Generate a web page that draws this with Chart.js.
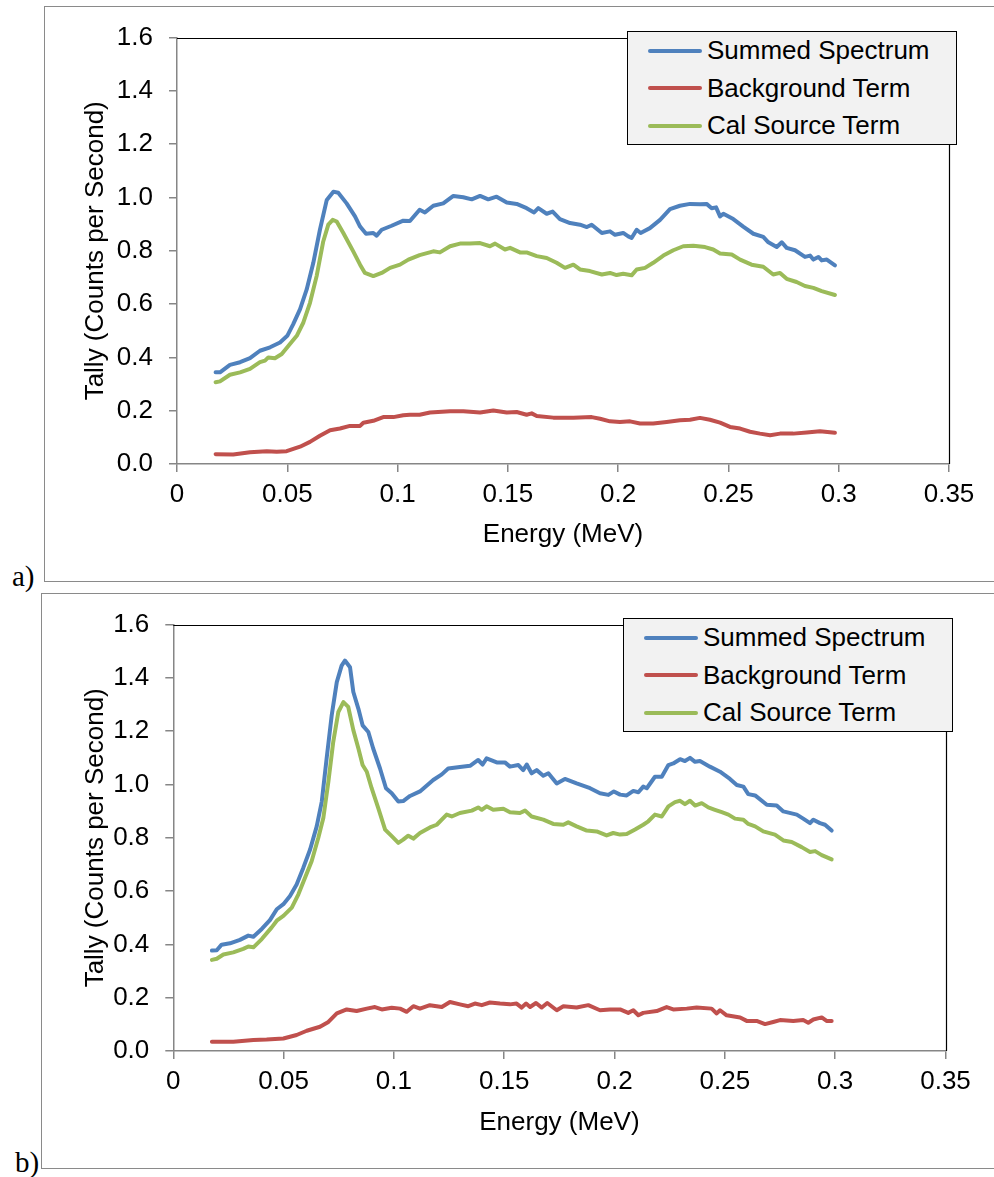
<!DOCTYPE html>
<html>
<head>
<meta charset="utf-8">
<script src="https://cdn.jsdelivr.net/npm/chart.js@4.4.1/dist/chart.umd.min.js"></script>
<style>
  html, body { margin: 0; padding: 0; background: #fff; }
  body { width: 994px; height: 1177px; position: relative; overflow: hidden; font-family: 'Liberation Sans', Arial, sans-serif; }
  .frame { position: absolute; box-sizing: border-box; border: 1px solid #8a8a8a; width: 1000px; height: 576px; }
  .plot { position: absolute; }
  .legend { position: absolute; box-sizing: border-box; width: 330px; height: 114px; background: #f2f2f2; border: 1px solid #000; }
  .legend .row { height: 37.5px; display: flex; align-items: center; font-size: 26px; color: #000; white-space: nowrap; }
  .legend .swatch { width: 54px; height: 4px; border-radius: 2px; margin-left: 20px; margin-right: 5px; }
  .tag { position: absolute; font-family: 'Liberation Serif', 'Times New Roman', serif; font-size: 29px; line-height: 29px; color: #000; }
</style>
</head>
<body>
<div class="frame" style="left:44px; top:6px;"></div>
<div class="frame" style="left:41px; top:593px;"></div>
<canvas id="chartA" class="plot" width="950" height="575" style="left:44px; top:6px;"></canvas>
<canvas id="chartB" class="plot" width="953" height="575" style="left:41px; top:593px;"></canvas>
<div id="legendA" class="legend" style="left:627px; top:31px;"></div>
<div id="legendB" class="legend" style="left:623px; top:618px;"></div>
<div class="tag" style="left:12px; top:562px;">a)</div>
<div class="tag" style="left:15px; top:1148px;">b)</div>

<script>
const seriesNames = ['Summed Spectrum', 'Background Term', 'Cal Source Term'];
const seriesColors = ['#4f81bd', '#c0504d', '#9bbb59'];
const xTickLabels = ['0', '0.05', '0.1', '0.15', '0.2', '0.25', '0.3', '0.35'];
const yTickLabels = ['0.0', '0.2', '0.4', '0.6', '0.8', '1.0', '1.2', '1.4', '1.6'];

// panel a) — [energy MeV, counts/s]
const aSummed = [
  [0.0175,0.344],[0.0195,0.344],[0.024,0.372],[0.0286,0.382],[0.0331,0.397],[0.0376,0.425],
  [0.0422,0.438],[0.0467,0.456],[0.050,0.481],[0.0527,0.525],[0.0558,0.581],[0.0588,0.655],
  [0.0618,0.755],[0.0648,0.879],[0.0679,0.991],[0.0709,1.022],[0.0731,1.018],[0.0769,0.978],
  [0.0807,0.929],[0.083,0.891],[0.0857,0.864],[0.089,0.867],[0.0905,0.857],[0.0928,0.879],
  [0.0973,0.894],[0.1026,0.913],[0.1056,0.912],[0.110,0.954],[0.1124,0.944],[0.1162,0.969],
  [0.1207,0.978],[0.1253,1.006],[0.1298,1.001],[0.1336,0.993],[0.1374,1.006],[0.1411,0.993],
  [0.1449,1.003],[0.1495,0.981],[0.154,0.976],[0.1585,0.960],[0.1619,0.944],[0.1638,0.960],
  [0.1676,0.939],[0.1703,0.947],[0.1736,0.919],[0.1782,0.904],[0.1827,0.898],[0.1858,0.889],
  [0.188,0.898],[0.1926,0.867],[0.1963,0.873],[0.1986,0.860],[0.2023,0.867],[0.2046,0.854],
  [0.2061,0.848],[0.2084,0.879],[0.2102,0.867],[0.2144,0.885],[0.219,0.916],[0.2235,0.956],
  [0.228,0.969],[0.2326,0.976],[0.2371,0.975],[0.2401,0.976],[0.2424,0.960],[0.2444,0.963],
  [0.2462,0.929],[0.2477,0.939],[0.2522,0.919],[0.2567,0.891],[0.2613,0.864],[0.2658,0.852],
  [0.2681,0.832],[0.2719,0.814],[0.2742,0.832],[0.2764,0.811],[0.2802,0.802],[0.2847,0.777],
  [0.287,0.782],[0.2885,0.767],[0.2908,0.777],[0.2923,0.764],[0.2946,0.767],[0.2983,0.745]
];
const aBackground = [
  [0.0175,0.037],[0.0255,0.036],[0.0331,0.044],[0.0407,0.048],[0.0452,0.046],[0.0497,0.048],
  [0.0558,0.065],[0.0603,0.083],[0.0648,0.106],[0.0694,0.127],[0.0739,0.133],[0.0784,0.143],
  [0.083,0.143],[0.0845,0.155],[0.089,0.162],[0.0935,0.176],[0.0981,0.176],[0.1026,0.183],
  [0.1056,0.185],[0.110,0.185],[0.1147,0.193],[0.1238,0.198],[0.1298,0.198],[0.1374,0.193],
  [0.1434,0.201],[0.1495,0.193],[0.154,0.195],[0.1585,0.185],[0.1608,0.190],[0.1631,0.180],
  [0.1706,0.174],[0.1797,0.174],[0.188,0.176],[0.1918,0.170],[0.1963,0.160],[0.2008,0.158],
  [0.2054,0.160],[0.2099,0.152],[0.2159,0.152],[0.222,0.158],[0.228,0.164],[0.2326,0.166],
  [0.2371,0.173],[0.2416,0.166],[0.2462,0.155],[0.2507,0.139],[0.2553,0.133],[0.2598,0.121],
  [0.2643,0.114],[0.2689,0.108],[0.2734,0.114],[0.2794,0.114],[0.2855,0.118],[0.2915,0.123],
  [0.2983,0.117]
];
const aCalSource = [
  [0.0175,0.307],[0.0195,0.310],[0.024,0.335],[0.0286,0.344],[0.0331,0.357],[0.0376,0.382],
  [0.0399,0.388],[0.0414,0.400],[0.0444,0.397],[0.0475,0.413],[0.0512,0.450],[0.0543,0.481],
  [0.0573,0.531],[0.0603,0.605],[0.0633,0.705],[0.0663,0.835],[0.0686,0.898],[0.0706,0.916],
  [0.0724,0.910],[0.0754,0.867],[0.0799,0.798],[0.083,0.748],[0.0852,0.717],[0.089,0.705],
  [0.0928,0.717],[0.0966,0.736],[0.1011,0.748],[0.1049,0.767],[0.110,0.784],[0.1162,0.798],
  [0.1192,0.794],[0.1238,0.817],[0.1283,0.827],[0.1328,0.827],[0.1374,0.829],[0.1419,0.817],
  [0.1442,0.827],[0.1487,0.805],[0.151,0.811],[0.1555,0.794],[0.1585,0.794],[0.1631,0.780],
  [0.1676,0.773],[0.1721,0.755],[0.1759,0.736],[0.1797,0.748],[0.1827,0.730],[0.1872,0.724],
  [0.1926,0.711],[0.1963,0.717],[0.1993,0.709],[0.2023,0.714],[0.2061,0.708],[0.2084,0.730],
  [0.2122,0.736],[0.2159,0.755],[0.2205,0.782],[0.225,0.802],[0.2295,0.817],[0.2341,0.819],
  [0.2394,0.814],[0.2431,0.805],[0.2462,0.790],[0.2515,0.786],[0.2553,0.767],[0.2605,0.748],
  [0.2658,0.740],[0.2703,0.711],[0.2734,0.717],[0.2764,0.695],[0.2809,0.683],[0.2847,0.668],
  [0.2885,0.661],[0.2923,0.649],[0.2983,0.634]
];

// panel b)
const bSummed = [
  [0.0175,0.377],[0.0197,0.378],[0.0219,0.399],[0.0257,0.404],[0.0302,0.417],[0.034,0.433],
  [0.0363,0.429],[0.0401,0.458],[0.0438,0.491],[0.0469,0.532],[0.0499,0.551],[0.0529,0.582],
  [0.0559,0.625],[0.0589,0.687],[0.062,0.756],[0.065,0.843],[0.0673,0.936],[0.0695,1.098],
  [0.0718,1.260],[0.0741,1.384],[0.0763,1.446],[0.0778,1.465],[0.0801,1.440],[0.0816,1.347],
  [0.0839,1.284],[0.0858,1.222],[0.0884,1.197],[0.0906,1.135],[0.0937,1.060],[0.0964,0.986],
  [0.099,0.967],[0.102,0.936],[0.1042,0.938],[0.1073,0.957],[0.1118,0.974],[0.1178,1.017],
  [0.1217,1.038],[0.1246,1.060],[0.1299,1.066],[0.1345,1.070],[0.1382,1.092],[0.1402,1.075],
  [0.142,1.098],[0.1466,1.083],[0.1503,1.083],[0.1526,1.067],[0.1564,1.073],[0.1586,1.054],
  [0.1602,1.075],[0.1624,1.042],[0.1647,1.054],[0.1677,1.033],[0.170,1.042],[0.1738,1.004],
  [0.1775,1.021],[0.1828,1.004],[0.1889,0.986],[0.1934,0.967],[0.1972,0.961],[0.1997,0.974],
  [0.2025,0.962],[0.2055,0.959],[0.2085,0.976],[0.2108,0.971],[0.213,0.992],[0.2146,0.986],
  [0.2183,1.029],[0.2214,1.029],[0.2244,1.073],[0.2266,1.079],[0.2297,1.095],[0.2319,1.088],
  [0.2342,1.100],[0.2365,1.085],[0.2387,1.088],[0.2432,1.067],[0.2478,1.048],[0.2523,1.021],
  [0.2554,0.998],[0.2584,0.992],[0.2606,0.964],[0.2637,0.959],[0.269,0.924],[0.2735,0.921],
  [0.2765,0.899],[0.2826,0.887],[0.2855,0.872],[0.2886,0.855],[0.2901,0.868],[0.2931,0.855],
  [0.2954,0.849],[0.2984,0.827]
];
const bBackground = [
  [0.0175,0.035],[0.0272,0.035],[0.0363,0.041],[0.0423,0.043],[0.0499,0.047],[0.0559,0.060],
  [0.0605,0.076],[0.0665,0.091],[0.0703,0.109],[0.0741,0.141],[0.0786,0.156],[0.0831,0.150],
  [0.0877,0.159],[0.0914,0.165],[0.0945,0.156],[0.099,0.162],[0.1028,0.159],[0.1058,0.147],
  [0.1088,0.168],[0.1118,0.159],[0.1163,0.172],[0.1217,0.165],[0.1254,0.184],[0.1299,0.175],
  [0.1337,0.168],[0.1367,0.178],[0.1398,0.172],[0.1435,0.182],[0.1481,0.178],[0.1526,0.175],
  [0.1556,0.178],[0.1579,0.163],[0.1599,0.178],[0.1617,0.165],[0.1644,0.180],[0.167,0.163],
  [0.1695,0.180],[0.1738,0.153],[0.1768,0.168],[0.1828,0.163],[0.1881,0.172],[0.1934,0.153],
  [0.1979,0.156],[0.2025,0.156],[0.2062,0.143],[0.2085,0.153],[0.2108,0.134],[0.213,0.143],
  [0.2191,0.150],[0.2236,0.165],[0.2266,0.156],[0.2327,0.159],[0.2372,0.163],[0.244,0.159],
  [0.2463,0.141],[0.2478,0.153],[0.2508,0.134],[0.2569,0.126],[0.2599,0.113],[0.2644,0.113],
  [0.2682,0.101],[0.2719,0.109],[0.275,0.116],[0.281,0.113],[0.2855,0.116],[0.2878,0.106],
  [0.2901,0.118],[0.2939,0.126],[0.2961,0.113],[0.2984,0.113]
];
const bCalSource = [
  [0.0175,0.342],[0.0197,0.346],[0.0227,0.362],[0.0272,0.370],[0.0317,0.383],[0.034,0.392],
  [0.0363,0.389],[0.0401,0.420],[0.0446,0.464],[0.0469,0.489],[0.0499,0.507],[0.0537,0.538],
  [0.0567,0.588],[0.0597,0.650],[0.0627,0.712],[0.0657,0.799],[0.068,0.874],[0.0703,1.011],
  [0.0725,1.160],[0.0748,1.272],[0.0771,1.309],[0.0793,1.291],[0.0816,1.204],[0.0839,1.135],
  [0.0858,1.073],[0.0877,1.048],[0.0899,0.986],[0.0929,0.911],[0.096,0.831],[0.099,0.806],
  [0.102,0.781],[0.1042,0.793],[0.1065,0.808],[0.1088,0.797],[0.1118,0.818],[0.1163,0.839],
  [0.1194,0.849],[0.1239,0.887],[0.1262,0.880],[0.1299,0.893],[0.1353,0.902],[0.1382,0.914],
  [0.1398,0.905],[0.142,0.918],[0.145,0.905],[0.1496,0.909],[0.1526,0.896],[0.1571,0.893],
  [0.1594,0.902],[0.1624,0.880],[0.1677,0.868],[0.1722,0.852],[0.1768,0.849],[0.179,0.858],
  [0.1828,0.843],[0.1874,0.827],[0.1919,0.824],[0.1964,0.809],[0.1994,0.818],[0.2025,0.812],
  [0.2055,0.814],[0.2093,0.831],[0.213,0.849],[0.2153,0.862],[0.2183,0.887],[0.2214,0.880],
  [0.2244,0.918],[0.2274,0.934],[0.2297,0.939],[0.2319,0.926],[0.2342,0.939],[0.2365,0.921],
  [0.2395,0.930],[0.2425,0.914],[0.2455,0.905],[0.2486,0.896],[0.2516,0.887],[0.2546,0.872],
  [0.2584,0.868],[0.2606,0.852],[0.2637,0.843],[0.2674,0.824],[0.2727,0.812],[0.2765,0.790],
  [0.2803,0.784],[0.2848,0.765],[0.2886,0.747],[0.2909,0.750],[0.2939,0.735],[0.2984,0.719]
];

const FONT = "'Liberation Sans', Arial, sans-serif";
Chart.defaults.font.family = FONT;
Chart.defaults.color = '#000';

const toPoints = (arr) => arr.map(([x, y]) => ({ x, y }));

// black top/right edge of the plot area (left/bottom are the gray axes)
const plotFrame = {
  id: 'plotFrame',
  beforeDatasetsDraw(chart) {
    const { ctx, chartArea } = chart;
    const { left, top, right, bottom } = chartArea;
    ctx.save();
    ctx.strokeStyle = '#000';
    ctx.lineWidth = 1.2;
    ctx.beginPath();
    ctx.moveTo(left, Math.round(top) + 0.5);
    ctx.lineTo(Math.round(right) + 0.5, Math.round(top) + 0.5);
    ctx.lineTo(Math.round(right) + 0.5, bottom);
    ctx.stroke();
    ctx.restore();
  }
};

function makeChart(id, series, opts) {
  const ctx = document.getElementById(id).getContext('2d');
  const datasets = series.map((data, i) => ({
    label: seriesNames[i],
    data: toPoints(data),
    borderColor: seriesColors[i],
    backgroundColor: seriesColors[i],
    borderWidth: 4,
    pointRadius: 0,
    tension: 0,
    showLine: true,
    fill: false,
    borderCapStyle: 'round',
    borderJoinStyle: 'round',
    order: [2, 1, 0][i], // cal source on top, like the original
  }));

  return new Chart(ctx, {
    type: 'scatter',
    data: { datasets },
    plugins: [plotFrame],
    options: {
      responsive: false,
      animation: false,
      events: [],
      layout: { padding: { top: 29, right: opts.padRight, left: 0, bottom: 0 } },
      plugins: { legend: { display: false }, tooltip: { enabled: false } },
      scales: {
        x: {
          type: 'linear',
          min: 0,
          max: 0.35,
          afterFit: (s) => { s.height = 117; },
          ticks: {
            stepSize: 0.05,
            padding: 7,
            maxRotation: 0,
            autoSkip: false,
            font: { size: 26 },
            callback: (v, i) => xTickLabels[i],
          },
          grid: { drawOnChartArea: false, color: '#868686', lineWidth: 1.5, tickLength: 8 },
          border: { color: '#868686', width: 1.5 },
          title: {
            display: true,
            text: 'Energy (MeV)',
            font: { size: 26 },
            padding: { top: 0, bottom: opts.xTitleBottom },
          },
        },
        y: {
          min: 0,
          max: 1.6,
          afterFit: (s) => { s.width = opts.yWidth; },
          ticks: {
            stepSize: 0.2,
            padding: 16,
            font: { size: 26 },
            callback: (v, i) => yTickLabels[i],
          },
          grid: { drawOnChartArea: false, color: '#868686', lineWidth: 1.5, tickLength: 8 },
          border: { color: '#868686', width: 1.5 },
          title: {
            display: true,
            text: 'Tally (Counts per Second)',
            font: { size: 26 },
            padding: { top: opts.yTitleTop, bottom: 0 },
          },
        },
      },
    },
  });
}

function buildLegend(id) {
  const box = document.getElementById(id);
  seriesNames.forEach((name, i) => {
    const row = document.createElement('div');
    row.className = 'row';
    const sw = document.createElement('span');
    sw.className = 'swatch';
    sw.style.background = seriesColors[i];
    const label = document.createElement('span');
    label.textContent = name;
    row.appendChild(sw);
    row.appendChild(label);
    box.appendChild(row);
  });
}

makeChart('chartA', [aSummed, aBackground, aCalSource], { padRight: 45, yWidth: 133, xTitleBottom: 31, yTitleTop: 36 });
makeChart('chartB', [bSummed, bBackground, bCalSource], { padRight: 48.5, yWidth: 132.3, xTitleBottom: 30, yTitleTop: 39 });
buildLegend('legendA');
buildLegend('legendB');
</script>
</body>
</html>
